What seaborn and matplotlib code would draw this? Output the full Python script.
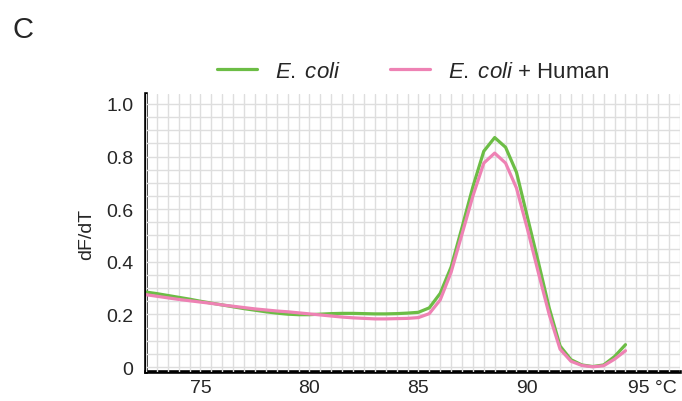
import numpy as np
import pandas as pd
import seaborn as sns
import matplotlib
matplotlib.use("Agg")
import matplotlib.pyplot as plt
from matplotlib.ticker import MultipleLocator, FixedLocator
import matplotlib.transforms as mtransforms

temperature = [72.5, 73, 73.5, 74, 74.5, 75, 75.5, 76, 76.5, 77, 77.5, 78, 78.5, 79, 79.5,
               80, 80.5, 81, 81.5, 82, 82.5, 83, 83.5, 84, 84.5, 85, 85.5, 86, 86.5, 87,
               87.5, 88, 88.5, 89, 89.5, 90, 90.5, 91, 91.5, 92, 92.5, 93, 93.5, 94, 94.5]
ecoli = [0.285, 0.279, 0.272, 0.265, 0.258, 0.250, 0.243, 0.236, 0.229, 0.222, 0.216,
         0.210, 0.205, 0.201, 0.199, 0.199, 0.201, 0.203, 0.204, 0.204, 0.203, 0.202,
         0.202, 0.203, 0.205, 0.208, 0.225, 0.280, 0.380, 0.530, 0.685, 0.820, 0.872,
         0.835, 0.740, 0.570, 0.400, 0.225, 0.080, 0.028, 0.008, 0.002, 0.008, 0.040, 0.085]
ecoli_human = [0.275, 0.269, 0.263, 0.257, 0.252, 0.247, 0.242, 0.236, 0.231, 0.226, 0.221,
               0.217, 0.213, 0.210, 0.206, 0.202, 0.198, 0.194, 0.190, 0.187, 0.185, 0.183,
               0.183, 0.184, 0.185, 0.188, 0.203, 0.255, 0.360, 0.505, 0.650, 0.775, 0.813,
               0.775, 0.680, 0.525, 0.360, 0.200, 0.068, 0.022, 0.006, 0.001, 0.005, 0.030, 0.062]
series_names = [r"$\mathit{E.\hspace{0.28}coli}$", r"$\mathit{E.\hspace{0.28}coli}$ + Human"]
series_colors = ["#6cbd45", "#ee82b4"]
x_ticks = [75, 80, 85, 90, 95]
x_ticklabels = ["75", "80", "85", "90", "95 °C"]
y_ticks = [0, 0.2, 0.4, 0.6, 0.8, 1.0]
y_ticklabels = ["0", "0.2", "0.4", "0.6", "0.8", "1.0"]

df = pd.DataFrame({
    "T": temperature * 2,
    "v": ecoli + ecoli_human,
    "s": [series_names[0]] * len(ecoli) + [series_names[1]] * len(ecoli_human),
})

sns.set_style("white")
plt.rcParams["font.family"] = ["Liberation Sans", "DejaVu Sans"]
plt.rcParams["mathtext.fontset"] = "custom"
plt.rcParams["mathtext.it"] = "Liberation Sans:italic"
plt.rcParams["mathtext.rm"] = "Liberation Sans"

fig = plt.figure(figsize=(6.82, 4.02), dpi=100)
ax = fig.add_axes([0.214, 0.072, 0.783, 0.692])

sns.lineplot(data=df, x="T", y="v", hue="s", palette=series_colors, linewidth=2.3,
             ax=ax, legend=True, zorder=4)

ax.set_xlim(72.5, 97.0)
ax.set_ylim(-0.019, 1.038)
ax.xaxis.set_minor_locator(MultipleLocator(0.5))
ax.yaxis.set_minor_locator(MultipleLocator(0.05))
ax.xaxis.set_major_locator(FixedLocator(x_ticks))
ax.yaxis.set_major_locator(FixedLocator(y_ticks))
ax.set_xticklabels(x_ticklabels)
ax.set_yticklabels(y_ticklabels)
ax.grid(True, which="both", color="#dedede", linewidth=1.0)
ax.set_axisbelow(False)
for s in ["top", "right"]:
    ax.spines[s].set_visible(False)
for s in ["left", "bottom"]:
    ax.spines[s].set_color("black")
    ax.spines[s].set_linewidth(2.6)
    ax.spines[s].set_zorder(1)
ax.tick_params(which="both", length=0, labelsize=14)
ax.tick_params(axis="y", pad=9)
ax.tick_params(axis="x", pad=5)
ax.set_xlabel("")
ax.set_ylabel("dF/dT", fontsize=14, labelpad=8)

# keep "95" centred on its tick, with the unit trailing to the right
last = ax.get_xticklabels()[-1]
last.set_ha("left")
last.set_transform(last.get_transform() + mtransforms.ScaledTranslation(-8.0 / 100, 0, fig.dpi_scale_trans))

leg = ax.legend(loc="lower center", bbox_to_anchor=(0.5, 1.0), ncol=2, frameon=False,
                fontsize=16, handlelength=1.8, columnspacing=2.2, handletextpad=0.8,
                borderaxespad=0.15)
for h in leg.get_lines():
    h.set_linewidth(2.3)

fig.text(0.018, 0.905, "C", fontsize=21)

fig.savefig("out.png", dpi=100)
